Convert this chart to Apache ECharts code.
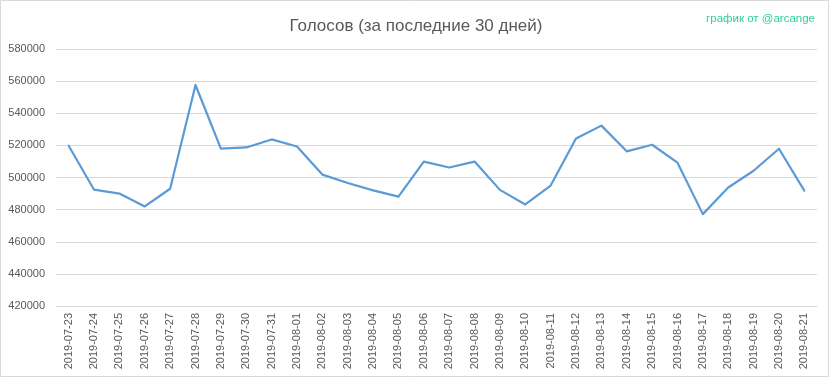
<!DOCTYPE html>
<html>
<head>
<meta charset="utf-8">
<script src="https://cdn.jsdelivr.net/npm/echarts@6/dist/echarts.min.js"></script>
<style>html,body{margin:0;padding:0;background:#fff}#c{width:832px;height:379px}</style>
</head>
<body>
<div id="c"></div>
<script>
const titleText = 'Голосов (за последние 30 дней)';
const creditText = 'график от @arcange';
const dates = ['2019-07-23','2019-07-24','2019-07-25','2019-07-26','2019-07-27','2019-07-28','2019-07-29','2019-07-30','2019-07-31','2019-08-01','2019-08-02','2019-08-03','2019-08-04','2019-08-05','2019-08-06','2019-08-07','2019-08-08','2019-08-09','2019-08-10','2019-08-11','2019-08-12','2019-08-13','2019-08-14','2019-08-15','2019-08-16','2019-08-17','2019-08-18','2019-08-19','2019-08-20','2019-08-21'];
const votes = [519800,492400,490000,482000,493000,557600,518000,518700,523700,519300,501800,496600,492000,488100,509900,506200,509900,492300,483200,495000,524300,532300,516300,520400,509200,477200,493800,504200,517900,491800];
const yMin = 420000, yMax = 580000, yStep = 20000;

const chart = echarts.init(document.getElementById('c'), null, {renderer: 'canvas'});
chart.setOption({
  animation: false,
  backgroundColor: '#ffffff',
  title: [{
    text: titleText, left: 'center', top: 13,
    textStyle: {fontFamily: 'Liberation Sans, sans-serif', fontSize: 17, fontWeight: 'normal', color: '#595959'}
  }, {
    text: creditText, right: 12, top: 8,
    textStyle: {fontFamily: 'Liberation Sans, sans-serif', fontSize: 11.5, fontWeight: 'normal', color: '#2ccf9f'}
  }],
  graphic: [{type: 'rect', shape: {x: 0.5, y: 0.5, width: 828, height: 376}, style: {fill: 'none', stroke: '#d9d9d9', lineWidth: 1}, silent: true}],
  grid: {left: 56, right: 15, top: 49, bottom: 73, containLabel: false},
  xAxis: {
    type: 'category', data: dates, boundaryGap: true,
    axisLine: {show: true, lineStyle: {color: '#d9d9d9'}},
    axisTick: {show: false},
    axisLabel: {rotate: 90, interval: 0, color: '#595959', fontSize: 11, fontFamily: 'Liberation Sans, sans-serif', margin: 7}
  },
  yAxis: {
    type: 'value', min: yMin, max: yMax, interval: yStep,
    axisLine: {show: false}, axisTick: {show: false},
    axisLabel: {color: '#595959', fontSize: 11, fontFamily: 'Liberation Sans, sans-serif', margin: 11, formatter: function (v) { return String(v); }},
    splitLine: {lineStyle: {color: '#d9d9d9', width: 1}}
  },
  series: [{
    type: 'line', data: votes, symbol: 'none',
    lineStyle: {color: '#5b9bd5', width: 2.2, cap: 'round', join: 'round'},
    itemStyle: {color: '#5b9bd5'}
  }]
});
</script>
</body>
</html>
